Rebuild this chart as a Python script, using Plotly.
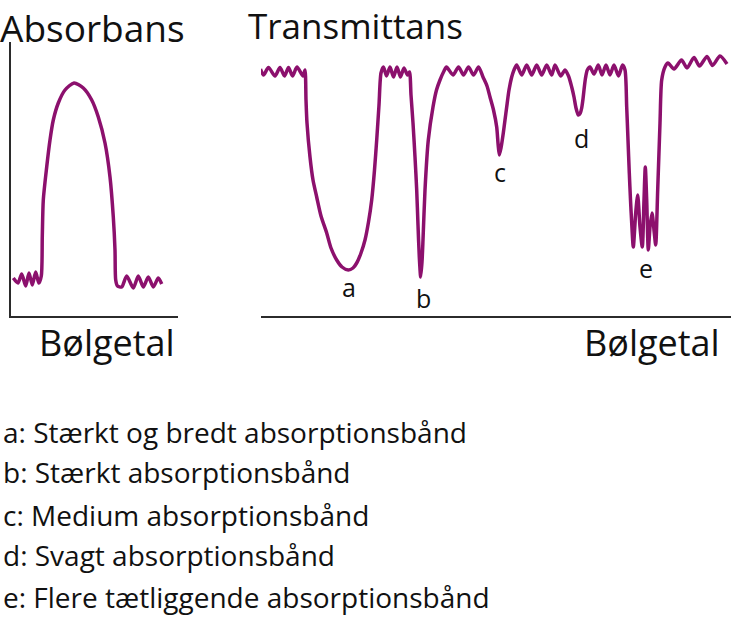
import plotly.graph_objects as go

W, H = 745, 622
PURPLE = "#8c106d"
AXIS = "#2b2b2b"
FONT = "Open Sans"

# absorbance panel: wavenumber (arbitrary) and signal height
abs_x = [13.3, 18, 21.7, 25.7, 29, 32.3, 35.7, 38.8, 41.3, 42.3, 43.3, 46.7, 50, 53.3,
         58.3, 65, 74, 83.3, 91.7, 98.3, 105, 110, 113.3, 115, 115.7, 117.5,
         121.7, 126.7, 133.3, 138.3, 143.3, 148.3, 153.3, 158.3, 161.7]
abs_y = [38, 33, 42, 30, 43, 31, 44, 33, 40, 80, 116, 149, 176, 196,
         213, 226, 233, 228, 216, 199, 173, 139, 99, 66, 36, 30,
         29, 40, 28, 40, 29, 39, 29, 38, 32]

# transmittance panel
tr_x = [260.5, 263.5, 268.5, 275, 280, 284.5, 288.5, 292.5, 297, 303, 305,
        306, 307, 310, 313, 316.7, 321, 326.7, 331, 336.7, 342, 348.3, 353, 356.7,
        361, 365, 368.5, 371.7, 374.5, 376.7, 379, 381,
        383.5, 386.5, 390, 393.5, 397, 400.5, 404, 407.5, 409.5,
        411, 413, 415, 416.7, 418, 419.3, 420.7, 422, 423, 425, 428.3, 433, 436.5, 440, 444,
        446.5, 453, 458.5, 463.5, 468.5, 473.5, 478.5,
        483, 487, 490, 493.5, 496.7, 498, 499.3, 501, 503.3, 505, 506.7, 509, 511.7, 514,
        516.7, 521.7, 526.7, 531.7, 536.7, 541.7, 546.7, 551.7, 555, 560.7, 565,
        568.5, 571.7, 574, 576, 578.3, 580.3, 581.7, 583, 584, 585.5, 587.3,
        590, 594, 598.3, 602, 606, 610, 614, 618.5, 622.5, 625,
        626.7, 628, 629.3, 630.5, 631.7, 633.3, 635.7, 637.7, 640, 642.3, 644, 645.3,
        646.7, 648.3, 650, 652, 654.3, 655.7, 657.7, 660, 661.7, 665,
        668, 674, 681.5, 687, 694, 699.5, 707, 712.5, 720, 727]
tr_y = [247, 241, 248.5, 240, 248.5, 240, 248.5, 240, 249, 240, 246,
        216, 193, 159, 136, 119, 100, 83, 68, 56, 49, 46, 48, 53,
        63, 76, 94, 116, 146, 176, 211, 243,
        249, 240, 249, 239, 249, 239, 248, 241, 244,
        221, 193, 159, 126, 91, 59, 39, 54, 76, 126, 176, 209, 226, 236, 245,
        249, 241, 249, 241, 249, 241, 249,
        239, 230, 219, 206, 189, 173, 161, 168, 183, 196, 209, 226, 239, 246,
        251, 241, 251, 241, 251, 241, 251, 241, 251, 240, 246,
        240, 229, 219, 208, 201, 203, 208, 217, 226, 238, 246,
        249, 242, 251, 241, 251, 241, 251, 240, 251, 246,
        209, 176, 143, 116, 93, 69, 103, 121, 89, 69, 116, 149,
        116, 66, 89, 103, 83, 71, 126, 193, 236, 249,
        253, 247, 256, 248, 258.5, 250, 259.5, 250.5, 260, 252]

band_names = ["a", "b", "c", "d", "e"]
band_x = [349, 423, 500, 581, 646]
band_y = [29, 18, 144, 178, 48]
band_desc = ["Stærkt og bredt absorptionsbånd",
             "Stærkt absorptionsbånd",
             "Medium absorptionsbånd",
             "Svagt absorptionsbånd",
             "Flere tætliggende absorptionsbånd"]

fig = go.Figure()
line_style = dict(color=PURPLE, width=3.5, shape="spline", smoothing=0.7)
fig.add_trace(go.Scatter(x=abs_x, y=abs_y, mode="lines", line=line_style,
                         xaxis="x", yaxis="y", hoverinfo="skip"))
fig.add_trace(go.Scatter(x=tr_x, y=tr_y, mode="lines", line=line_style,
                         xaxis="x2", yaxis="y2", hoverinfo="skip"))

ax = dict(showline=True, linecolor=AXIS, linewidth=2, showgrid=False,
          zeroline=False, showticklabels=False, ticks="", fixedrange=True)
fig.update_layout(
    width=W, height=H,
    margin=dict(l=0, r=0, t=0, b=0),
    paper_bgcolor="white", plot_bgcolor="white",
    showlegend=False,
    xaxis=dict(ax, domain=[11 / W, 178 / W], range=[11, 178]),
    yaxis=dict(ax, domain=[(H - 316) / H, (H - 42) / H], range=[0, 274]),
    xaxis2=dict(ax, domain=[261 / W, 731 / W], range=[261, 731]),
    yaxis2=dict(ax, domain=[(H - 316) / H, (H - 43) / H], range=[0, 273]),
)

# band letters
for n, x, y in zip(band_names, band_x, band_y):
    fig.add_annotation(x=x, y=y, xref="x2", yref="y2", text=n, showarrow=False,
                       font=dict(family=FONT, size=25, color="#111"))

def label(text, px, py, size, anchor="left", yanchor="middle"):
    fig.add_annotation(x=px / W, y=(H - py) / H, xref="paper", yref="paper",
                       text=text, showarrow=False, xanchor=anchor, yanchor=yanchor,
                       font=dict(family=FONT, size=size, color="#111"))

label("Absorbans", -2, 0, 37, yanchor="top")
label("Transmittans", 246, 0, 35, yanchor="top")
label("Bølgetal", 37, 343, 36)
label("Bølgetal", 582, 343, 36)

rows_y = [432, 472, 515, 555, 597]
for n, d, y in zip(band_names, band_desc, rows_y):
    label(n + ": " + d, 1, y, 28)

fig.write_html("out.html", config={"displayModeBar": False},
               post_script="document.body.style.margin='0px';")
